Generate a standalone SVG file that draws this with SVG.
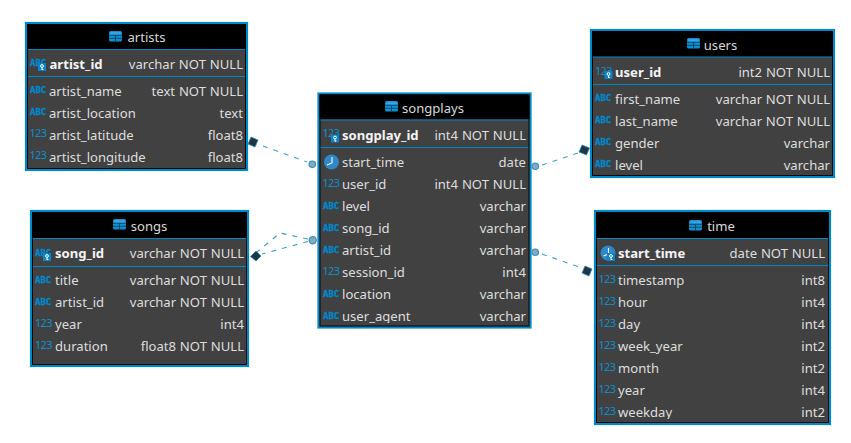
<svg xmlns="http://www.w3.org/2000/svg" xmlns:xlink="http://www.w3.org/1999/xlink" width="851" height="443" viewBox="0 0 851 443">
<style>
text{font-family:"Noto Sans","Open Sans","DejaVu Sans",sans-serif;font-size:13.1px;fill:#dedede}
.box{fill:#414141;stroke:#0089c8;stroke-width:2.2}
.in{fill:none;stroke:#000;stroke-width:.9}
.head{fill:#000}
.sep{stroke:#0089c8;stroke-width:1.2;fill:none}
.title{text-anchor:middle;fill:#d8d8d8}
.pk{font-weight:700;fill:#f4f4f4}
.r{text-anchor:end;word-spacing:.4px}
.i1{font-size:11px;letter-spacing:-.7px;fill:#0d8fd0}
.i2{font-size:9px;font-weight:700;fill:#0088cc;stroke:#0088cc;stroke-width:.35;font-family:"DejaVu Sans Mono",monospace}
.conn{stroke:#3aa0d0;stroke-width:1.1;stroke-dasharray:5 6;fill:none}
.dot{fill:#8fa6b4;stroke:#2e97cc;stroke-width:1.2}
.dia{fill:#22343f;stroke:#1f8fc8;stroke-width:.8}
.clk{fill:#2f88c8}
.clkh{stroke:#fff;stroke-width:1.1;fill:none}
.key{fill:#0a84cc}
.keyk{stroke:#fff;stroke-width:1;fill:none}
</style>
<defs>
<clipPath id="c1"><rect x="319" y="300" width="211" height="23"/></clipPath>
<clipPath id="c2"><rect x="596" y="400" width="233" height="19"/></clipPath>
<g id="tbl"><rect x="0" y="0" width="13" height="10.500" rx="1.500" fill="#0d8fd0"/><rect x="1.200" y="1.200" width="10.600" height="2.300" fill="#3aa6e6"/><path d="M0 4.300H13M6.500 4.300V10M0 7.300H13" stroke="#003a5c" stroke-width=".8" fill="none"/></g>
<g id="key"><rect x="0" y="0" width="8" height="8" class="key"/><circle cx="4" cy="3" r="1.400" class="keyk"/><path d="M4 4.400V7M4 6.500H5.400" class="keyk"/></g>
<g id="clock"><circle cx="8" cy="8" r="7.500" class="clk"/><path d="M8.500 3V9L3.500 11" class="clkh"/></g>
</defs>

<g id="connectors">
<path class="conn" d="M263 146L307 162"/>
<path class="conn" d="M308 239L280 233L257 252"/>
<path class="conn" d="M308 241.500L262 254"/>
<path class="conn" d="M542 165L578 153"/>
<path class="conn" d="M542 254L582 268"/>
<circle class="dot" cx="312.300" cy="164.300" r="3.200"/>
<circle class="dot" cx="312.700" cy="240.300" r="3.600"/>
<circle class="dot" cx="535.300" cy="166.300" r="3.200"/>
<circle class="dot" cx="535.300" cy="252.300" r="3.200"/>
<path class="dia" d="M251 137L258 140L255 147L248 144Z"/>
<path class="dia" d="M256 251L261 256L256 261L250.500 256.500Z"/>
<path class="dia" d="M582 145L589.500 148L586.500 155L579 152Z"/>
<path class="dia" d="M585 266L592 269L589 276L582 273Z"/>
</g>

<g id="artists">
<rect class="box" x="26" y="23" width="221" height="147"/>
<rect class="head" x="27" y="24" width="219" height="25"/>
<path class="sep" d="M27 49.500H246M27 76.500H246"/>
<use xlink:href="#tbl" x="109" y="31"/>
<text class="title" x="146.500" y="42">artists</text>
<text class="i2" x="30" y="66">ABC</text>
<text class="pk" x="49.500" y="69">artist_id</text><text class="r" x="243" y="69">varchar NOT NULL</text>
<use xlink:href="#key" x="38" y="63"/>
<text class="i2" x="30" y="93">ABC</text><text x="49" y="96">artist_name</text><text class="r" x="243" y="96">text NOT NULL</text>
<text class="i2" x="30" y="115">ABC</text><text x="49" y="118">artist_location</text><text class="r" x="243" y="118">text</text>
<text class="i1" x="29.500" y="137">123</text><text x="49" y="140">artist_latitude</text><text class="r" x="243" y="140">float8</text>
<text class="i1" x="29.500" y="159">123</text><text x="49" y="162">artist_longitude</text><text class="r" x="243" y="162">float8</text>
<rect class="in" x="27.500" y="24.500" width="218" height="144"/>
</g>

<g id="songs">
<rect class="box" x="31" y="211" width="217" height="155"/>
<rect class="head" x="32" y="212" width="215" height="27"/>
<path class="sep" d="M32 238.500H247M32 266.500H247"/>
<use xlink:href="#tbl" x="113" y="219"/>
<text class="title" x="149" y="231">songs</text>
<text class="i2" x="35" y="256">ABC</text>
<text class="pk" x="55" y="258">song_id</text><text class="r" x="244" y="258">varchar NOT NULL</text>
<use xlink:href="#key" x="43" y="253"/>
<text class="i2" x="35" y="283">ABC</text><text x="55" y="285">title</text><text class="r" x="244" y="285">varchar NOT NULL</text>
<text class="i2" x="35" y="305">ABC</text><text x="55" y="307">artist_id</text><text class="r" x="244" y="307">varchar NOT NULL</text>
<text class="i1" x="35" y="327">123</text><text x="55" y="329">year</text><text class="r" x="244" y="329">int4</text>
<text class="i1" x="35" y="349">123</text><text x="55" y="351">duration</text><text class="r" x="244" y="351">float8 NOT NULL</text>
<rect class="in" x="32.500" y="212.500" width="214" height="152"/>
</g>

<g id="songplays">
<rect class="box" x="318.500" y="93.500" width="212" height="234"/>
<rect class="head" x="319.500" y="94.500" width="210" height="25"/>
<path class="sep" d="M319.500 120H529.500M319.500 147.500H529.500"/>
<use xlink:href="#tbl" x="385" y="101"/>
<text class="title" x="433" y="113">songplays</text>
<text class="i1" x="322.500" y="137">123</text>
<text class="pk" x="342" y="140">songplay_id</text><text class="r" x="526" y="140">int4 NOT NULL</text>
<use xlink:href="#key" x="331" y="134.500"/>
<use xlink:href="#clock" x="323.500" y="154"/><text x="342" y="167">start_time</text><text class="r" x="526" y="167">date</text>
<text class="i1" x="322.500" y="187">123</text><text x="342" y="189">user_id</text><text class="r" x="526" y="189">int4 NOT NULL</text>
<text class="i2" x="323" y="209">ABC</text><text x="342" y="211">level</text><text class="r" x="526" y="211">varchar</text>
<text class="i2" x="323" y="231">ABC</text><text x="342" y="233">song_id</text><text class="r" x="526" y="233">varchar</text>
<text class="i2" x="323" y="253">ABC</text><text x="342" y="255">artist_id</text><text class="r" x="526" y="255">varchar</text>
<text class="i1" x="322.500" y="275">123</text><text x="342" y="277">session_id</text><text class="r" x="526" y="277">int4</text>
<text class="i2" x="323" y="297">ABC</text><text x="342" y="299">location</text><text class="r" x="526" y="299">varchar</text>
<text class="i2" x="323" y="319">ABC</text><text x="342" y="321" clip-path="url(#c1)">user_agent</text><text class="r" x="526" y="321">varchar</text>
<rect class="in" x="320" y="95" width="209" height="231"/>
</g>

<g id="users">
<rect class="box" x="591" y="30" width="243" height="147"/>
<rect class="head" x="592" y="31" width="241" height="26"/>
<path class="sep" d="M592 57H833M592 84.500H833"/>
<use xlink:href="#tbl" x="687" y="38"/>
<text class="title" x="720.500" y="50">users</text>
<text class="i1" x="595" y="75">123</text>
<text class="pk" x="615" y="77">user_id</text><text class="r" x="830" y="77">int2 NOT NULL</text>
<use xlink:href="#key" x="604.500" y="71"/>
<text class="i2" x="595" y="101">ABC</text><text x="615" y="104">first_name</text><text class="r" x="830" y="104">varchar NOT NULL</text>
<text class="i2" x="595" y="123">ABC</text><text x="615" y="126">last_name</text><text class="r" x="830" y="126">varchar NOT NULL</text>
<text class="i2" x="595" y="145">ABC</text><text x="615" y="148">gender</text><text class="r" x="830" y="148">varchar</text>
<text class="i2" x="595" y="167">ABC</text><text x="615" y="170">level</text><text class="r" x="830" y="170">varchar</text>
<rect class="in" x="592.500" y="31.500" width="240" height="144"/>
</g>

<g id="time">
<rect class="box" x="595" y="211" width="235" height="213"/>
<rect class="head" x="596" y="212" width="233" height="26"/>
<path class="sep" d="M596 238.500H829M596 265.500H829"/>
<use xlink:href="#tbl" x="689" y="220"/>
<text class="title" x="721" y="231">time</text>
<use xlink:href="#clock" x="600" y="245"/><use xlink:href="#key" x="607" y="253"/>
<text class="pk" x="618" y="258">start_time</text><text class="r" x="825" y="258">date NOT NULL</text>
<text class="i1" x="598.500" y="283">123</text><text x="618" y="285">timestamp</text><text class="r" x="825" y="285">int8</text>
<text class="i1" x="598.500" y="305">123</text><text x="618" y="307">hour</text><text class="r" x="825" y="307">int4</text>
<text class="i1" x="598.500" y="327">123</text><text x="618" y="329">day</text><text class="r" x="825" y="329">int4</text>
<text class="i1" x="598.500" y="349">123</text><text x="618" y="351">week_year</text><text class="r" x="825" y="351">int2</text>
<text class="i1" x="598.500" y="371">123</text><text x="618" y="373">month</text><text class="r" x="825" y="373">int2</text>
<text class="i1" x="598.500" y="393">123</text><text x="618" y="395">year</text><text class="r" x="825" y="395">int4</text>
<text class="i1" x="598.500" y="415">123</text><text x="618" y="417" clip-path="url(#c2)">weekday</text><text class="r" x="825" y="417">int2</text>
<rect class="in" x="596.500" y="212.500" width="232" height="210"/>
</g>
</svg>
